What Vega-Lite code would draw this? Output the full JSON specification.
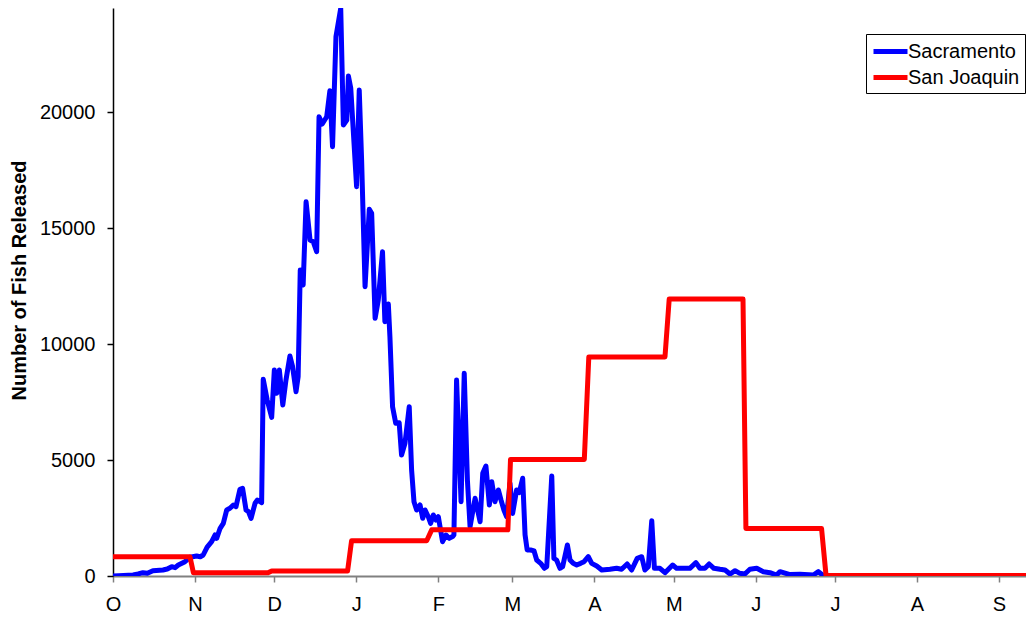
{
  "$schema": "https://vega.github.io/schema/vega-lite/v6.json",
  "width": 913,
  "height": 568,
  "autosize": {"type": "none"},
  "padding": {"left": 113, "top": 8, "right": 0, "bottom": 44},
  "background": "white",
  "config": {
    "view": {"stroke": null},
    "font": "Liberation Sans"
  },
  "datasets": {
    "sac": [
      {"day": 0, "fish": 0}, {"day": 4, "fish": 20}, {"day": 7.6, "fish": 43}, {"day": 9.5, "fish": 90}, {"day": 11.3, "fish": 144}, {"day": 13, "fish": 120}, {"day": 15.1, "fish": 230},
      {"day": 18.9, "fish": 259}, {"day": 20.5, "fish": 300}, {"day": 22.2, "fish": 402}, {"day": 23.5, "fish": 360}, {"day": 24.7, "fish": 474}, {"day": 27.2, "fish": 617},
      {"day": 29.1, "fish": 807}, {"day": 31.6, "fish": 862}, {"day": 33, "fish": 830}, {"day": 34.1, "fish": 906}, {"day": 35.6, "fish": 1250},
      {"day": 37.3, "fish": 1480}, {"day": 38.6, "fish": 1770}, {"day": 39.2, "fish": 1625}, {"day": 40.5, "fish": 2057},
      {"day": 41.7, "fish": 2270}, {"day": 43.0, "fish": 2847}, {"day": 44.2, "fish": 2920}, {"day": 45.5, "fish": 3062},
      {"day": 46.5, "fish": 2990}, {"day": 48.0, "fish": 3739}, {"day": 49.0, "fish": 3782}, {"day": 50.3, "fish": 2847},
      {"day": 51.2, "fish": 2775}, {"day": 52.2, "fish": 2488}, {"day": 53.7, "fish": 3135}, {"day": 54.6, "fish": 3278},
      {"day": 56.2, "fish": 3163}, {"day": 56.8, "fish": 8483}, {"day": 58.3, "fish": 7591}, {"day": 60.0, "fish": 6844},
      {"day": 61.0, "fish": 8885}, {"day": 61.9, "fish": 7880}, {"day": 62.9, "fish": 8885}, {"day": 64.2, "fish": 7375},
      {"day": 65.4, "fish": 8453}, {"day": 66.9, "fish": 9489}, {"day": 67.9, "fish": 9027}, {"day": 69.2, "fish": 7949},
      {"day": 70.0, "fish": 8596}, {"day": 70.8, "fish": 13198}, {"day": 71.9, "fish": 12551}, {"day": 73.0, "fish": 16144},
      {"day": 74.5, "fish": 14492}, {"day": 75.7, "fish": 14420}, {"day": 77.0, "fish": 13987}, {"day": 77.9, "fish": 19810},
      {"day": 79.1, "fish": 19495}, {"day": 80.8, "fish": 19810}, {"day": 82.0, "fish": 20931}, {"day": 83.0, "fish": 18516},
      {"day": 84.3, "fish": 23260}, {"day": 86.1, "fish": 24484}, {"day": 87.1, "fish": 19451}, {"day": 88.4, "fish": 19667},
      {"day": 89.0, "fish": 21565}, {"day": 89.9, "fish": 21035}, {"day": 92.1, "fish": 16791}, {"day": 93.1, "fish": 20961},
      {"day": 94.0, "fish": 17942}, {"day": 95.3, "fish": 12477}, {"day": 96.9, "fish": 15816}, {"day": 97.8, "fish": 15643},
      {"day": 99.1, "fish": 11114}, {"day": 100.3, "fish": 11904}, {"day": 101.9, "fish": 13987}, {"day": 102.8, "fish": 10968},
      {"day": 104.1, "fish": 11731}, {"day": 104.7, "fish": 10322}, {"day": 105.7, "fish": 7302}, {"day": 106.9, "fish": 6586},
      {"day": 108.2, "fish": 6614}, {"day": 109.1, "fish": 5219}, {"day": 110.4, "fish": 5723}, {"day": 112.0, "fish": 7302},
      {"day": 112.9, "fish": 4572}, {"day": 113.8, "fish": 3205}, {"day": 114.8, "fish": 2847}, {"day": 116.1, "fish": 3062},
      {"day": 117.1, "fish": 2488}, {"day": 118.0, "fish": 2847}, {"day": 119.2, "fish": 2558}, {"day": 120.1, "fish": 2273},
      {"day": 121.1, "fish": 2631}, {"day": 122.1, "fish": 2415}, {"day": 123.0, "fish": 2558}, {"day": 124.6, "fish": 1480},
      {"day": 125.9, "fish": 1768}, {"day": 127.1, "fish": 1625}, {"day": 128.4, "fish": 1700}, {"day": 128.9, "fish": 1768},
      {"day": 129.9, "fish": 8453}, {"day": 131.6, "fish": 3205}, {"day": 132.8, "fish": 8743}, {"day": 134.0, "fish": 4140},
      {"day": 135.0, "fish": 2126}, {"day": 136.9, "fish": 3351}, {"day": 138.8, "fish": 2342}, {"day": 139.8, "fish": 4429},
      {"day": 141.0, "fish": 4744}, {"day": 142.3, "fish": 3062}, {"day": 143.2, "fish": 4067}, {"day": 144.4, "fish": 3205},
      {"day": 145.7, "fish": 3709}, {"day": 146.7, "fish": 3278}, {"day": 147.8, "fish": 2847}, {"day": 148.8, "fish": 2558},
      {"day": 150.1, "fish": 3998}, {"day": 151.1, "fish": 2700}, {"day": 152.6, "fish": 3709}, {"day": 153.6, "fish": 3600},
      {"day": 154.9, "fish": 4214}, {"day": 155.8, "fish": 1770}, {"day": 156.6, "fish": 1121}, {"day": 157.9, "fish": 1121},
      {"day": 159.2, "fish": 1080}, {"day": 160.2, "fish": 690}, {"day": 161.7, "fish": 546}, {"day": 163.1, "fish": 332},
      {"day": 164.0, "fish": 402}, {"day": 165.9, "fish": 4313}, {"day": 166.7, "fish": 762}, {"day": 167.7, "fish": 690},
      {"day": 169.0, "fish": 332}, {"day": 170.0, "fish": 402}, {"day": 171.8, "fish": 1337}, {"day": 172.8, "fish": 690},
      {"day": 174.0, "fish": 546}, {"day": 175.3, "fish": 474}, {"day": 176.8, "fish": 546}, {"day": 178.1, "fish": 617},
      {"day": 179.7, "fish": 832}, {"day": 181.0, "fish": 546}, {"day": 182.9, "fish": 431}, {"day": 184.8, "fish": 259},
      {"day": 187.9, "fish": 289}, {"day": 190.4, "fish": 332}, {"day": 192.3, "fish": 289}, {"day": 194.4, "fish": 518},
      {"day": 196.1, "fish": 259}, {"day": 198.2, "fish": 762}, {"day": 199.9, "fish": 832}, {"day": 201.1, "fish": 259},
      {"day": 202.4, "fish": 402}, {"day": 203.7, "fish": 2387}, {"day": 204.7, "fish": 332}, {"day": 206.8, "fish": 332},
      {"day": 208.7, "fish": 144}, {"day": 211.6, "fish": 474}, {"day": 213.1, "fish": 332}, {"day": 215.6, "fish": 332},
      {"day": 218.1, "fish": 332}, {"day": 220.4, "fish": 575}, {"day": 221.9, "fish": 332}, {"day": 223.8, "fish": 332},
      {"day": 225.4, "fish": 518}, {"day": 227.2, "fish": 332}, {"day": 229.5, "fish": 289}, {"day": 231.4, "fish": 259},
      {"day": 233.3, "fish": 86}, {"day": 235.2, "fish": 230}, {"day": 237.0, "fish": 115}, {"day": 238.9, "fish": 86},
      {"day": 240.8, "fish": 289}, {"day": 243.4, "fish": 332}, {"day": 245.9, "fish": 187}, {"day": 248.4, "fish": 144},
      {"day": 250.9, "fish": 43}, {"day": 252.2, "fish": 187}, {"day": 256.0, "fish": 60}, {"day": 259.7, "fish": 80},
      {"day": 264.8, "fish": 43}, {"day": 266.7, "fish": 187}, {"day": 268.6, "fish": 10}, {"day": 280, "fish": 20},
      {"day": 300, "fish": 10}, {"day": 345.2, "fish": 5}
    ],
    "sj": [
      {"day": 0, "fish": 830}, {"day": 29.1, "fish": 830}, {"day": 30.4, "fish": 140}, {"day": 58.6, "fish": 140},
      {"day": 60.0, "fish": 220}, {"day": 88.7, "fish": 220}, {"day": 90.2, "fish": 1520}, {"day": 118.6, "fish": 1520},
      {"day": 120.5, "fish": 1990}, {"day": 149.3, "fish": 1990}, {"day": 150.3, "fish": 5030}, {"day": 178.2, "fish": 5030},
      {"day": 179.9, "fish": 9450}, {"day": 208.7, "fish": 9450}, {"day": 210.3, "fish": 11950}, {"day": 238.2, "fish": 11950},
      {"day": 239.3, "fish": 2050}, {"day": 267.9, "fish": 2050}, {"day": 269.6, "fish": 20}, {"day": 345.2, "fish": 20}
    ]
  },
  "layer": [
    {
      "data": {"name": "sac"},
      "transform": [{"calculate": "'Sacramento'", "as": "river"}],
      "mark": {"type": "line", "strokeWidth": 5, "strokeJoin": "round", "clip": true},
      "encoding": {
        "x": {"field": "day", "type": "quantitative"},
        "y": {"field": "fish", "type": "quantitative"},
        "color": {"field": "river", "type": "nominal"}
      }
    },
    {
      "data": {"name": "sj"},
      "transform": [{"calculate": "'San Joaquin'", "as": "river"}],
      "mark": {"type": "line", "strokeWidth": 5, "strokeJoin": "round", "clip": true},
      "encoding": {
        "x": {"field": "day", "type": "quantitative"},
        "y": {"field": "fish", "type": "quantitative"},
        "color": {"field": "river", "type": "nominal"}
      }
    }
  ],
  "encoding": {
    "x": {
      "field": "day", "type": "quantitative",
      "scale": {"domain": [0, 345.2], "nice": false, "zero": false},
      "axis": {
        "title": null, "grid": false,
        "values": [0, 31, 61, 92, 123, 151, 182, 212, 243, 273, 304, 335],
        "labelExpr": "['O','N','D','J','F','M','A','M','J','J','A','S'][indexof([0,31,61,92,123,151,182,212,243,273,304,335], datum.value)]",
        "domainColor": "#808080", "domainWidth": 2, "tickColor": "#808080", "tickWidth": 1.5, "tickSize": 6,
        "labelFontSize": 20, "labelColor": "black", "labelPadding": 12, "labelFont": "Liberation Sans",
        "labelFlush": false, "labelOverlap": false
      }
    },
    "y": {
      "field": "fish", "type": "quantitative",
      "scale": {"domain": [0, 24500], "nice": false},
      "axis": {
        "title": "Number of Fish Released", "grid": false,
        "values": [0, 5000, 10000, 15000, 20000], "format": "d",
        "domainColor": "black", "domainWidth": 1.5, "tickColor": "black", "tickWidth": 1.5, "tickSize": 6,
        "labelFontSize": 20, "labelColor": "black", "labelPadding": 12, "labelFont": "Liberation Sans",
        "titleFont": "Liberation Sans", "titleFontSize": 20, "titleFontWeight": "bold", "titleColor": "black",
        "titlePadding": 10, "titleY": 272
      }
    },
    "color": {
      "field": "river", "type": "nominal",
      "scale": {"domain": ["Sacramento", "San Joaquin"], "range": ["#0000FF", "#FF0000"]},
      "legend": {
        "title": null, "orient": "none", "legendX": 753, "legendY": 26,
        "symbolType": "M-1,0H2.4", "symbolSize": 400, "symbolStrokeWidth": 5,
        "labelFontSize": 20, "labelFont": "Liberation Sans", "labelColor": "black", "labelOffset": 12,
        "strokeColor": "black", "fillColor": "white", "padding": 5, "rowPadding": 3
      }
    }
  }
}
